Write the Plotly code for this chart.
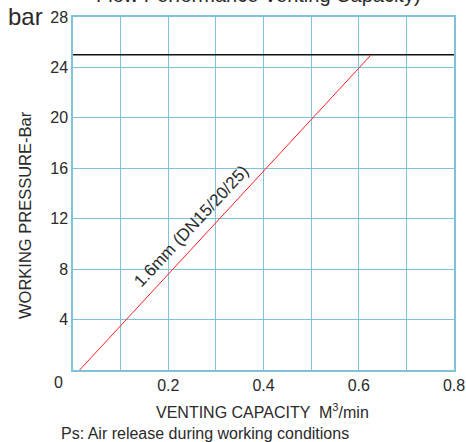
import plotly.graph_objects as go

# Data
curve_name = "1.6mm (DN15/20/25)"
flow_m3min = [0.014, 0.626]
pressure_bar = [0, 25]
max_pressure = 25
x_ticks = [0, 0.1, 0.2, 0.3, 0.4, 0.5, 0.6, 0.7, 0.8]
x_ticktext = ["", "", "0.2", "", "0.4", "", "0.6", "", "0.8"]
y_ticks = [0, 4, 8, 12, 16, 20, 24, 28]
y_ticktext = ["", "4", "8", "12", "16", "20", "24", "28"]

GRID = "#7fc2da"
FONT = "Liberation Sans, Arial, sans-serif"
TXT = "#2a2a2a"

W, H = 466, 442
ML, MR, MT, MB = 73, 12, 17, 72

fig = go.Figure()
fig.add_trace(go.Scatter(x=[0, 0.8], y=[max_pressure, max_pressure], mode="lines",
                         line=dict(color="#111111", width=1.5), showlegend=False, hoverinfo="skip"))
fig.add_trace(go.Scatter(x=flow_m3min, y=pressure_bar, mode="lines", name=curve_name,
                         line=dict(color="#ff2020", width=1), showlegend=False))

fig.update_layout(
    width=W, height=H,
    margin=dict(l=ML, r=MR, t=MT, b=MB, autoexpand=False),
    paper_bgcolor="white", plot_bgcolor="white",
    font=dict(family=FONT, size=16, color=TXT),
    xaxis=dict(range=[0, 0.8], tickvals=x_ticks, ticktext=x_ticktext,
               showgrid=True, gridcolor=GRID, gridwidth=1.2,
               showline=True, linecolor=GRID, linewidth=1.5, mirror=True,
               zeroline=False, ticks="", tickfont=dict(size=16, color=TXT)),
    yaxis=dict(range=[0, 28], tickvals=y_ticks, ticktext=y_ticktext,
               showgrid=True, gridcolor=GRID, gridwidth=1.2,
               showline=True, linecolor=GRID, linewidth=1.5, mirror=True,
               zeroline=False, ticks="", tickfont=dict(size=16, color=TXT)),
)

ph = H - MT - MB
pw = W - ML - MR

def py(pix):  # pix in page coords
    return 1 - (pix - MT) / ph

def px(pix):
    return (pix - ML) / pw

ann = [
    dict(text="Flow Performance Venting Capacity)", x=px(258), y=py(-5), font=dict(size=20)),
    dict(text="bar", x=px(25), y=py(16), font=dict(size=24)),
    dict(text="0", x=px(58), y=py(382), font=dict(size=16)),
    dict(text="WORKING PRESSURE-Bar", x=px(25), y=py(215), textangle=-90, font=dict(size=16.5)),
    dict(text="VENTING CAPACITY  M<sup>3</sup>/min", x=px(262), y=py(411), font=dict(size=16)),
    dict(text="Ps: Air release during working conditions", x=px(59), y=py(433),
         xanchor="left", font=dict(size=16)),
]
for a in ann:
    a.setdefault("xanchor", "center")
    fig.add_annotation(xref="paper", yref="paper", yanchor="middle", showarrow=False, **a)

fig.add_annotation(text=curve_name, x=0.248, y=11.4, xref="x", yref="y", showarrow=False,
                   textangle=-47, font=dict(size=17, color=TXT))

fig.write_html("out.html", config={"displayModeBar": False},
               post_script="document.body.style.margin='0';document.body.style.overflow='hidden';")
